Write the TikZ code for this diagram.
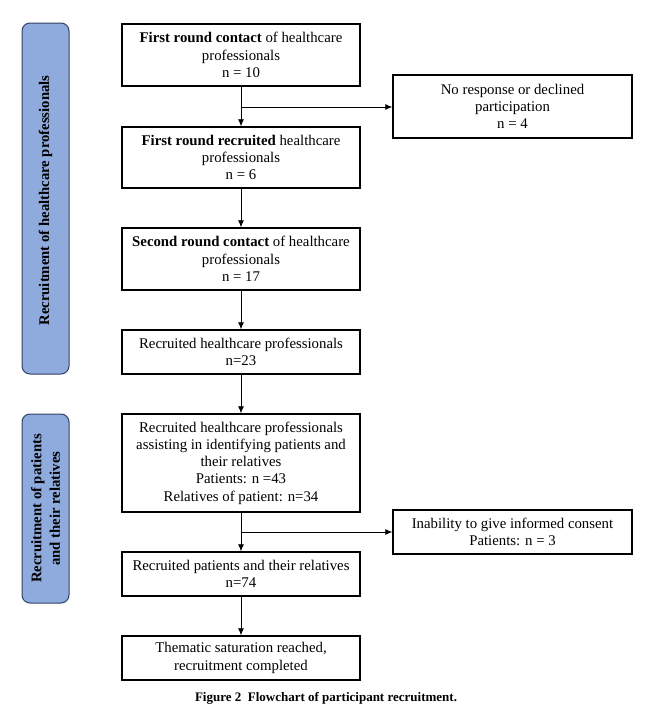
\documentclass[tikz,border=0pt]{standalone}
\usepackage{fontspec}
\setmainfont{Liberation Serif}
\usetikzlibrary{arrows.meta}
\definecolor{bandfill}{RGB}{143,170,220}
\definecolor{bandline}{RGB}{50,66,100}
\begin{document}
\begin{tikzpicture}[x=1pt,y=-1pt,
  box/.style={draw,line width=1.5pt,align=center,inner sep=0pt,
    font=\fontsize{14.8}{17.3}\selectfont},
  band/.style={draw=bandline,fill=bandfill,line width=1pt,rounded corners=8pt,
    inner sep=0pt},
  bandtext/.style={rotate=90,align=center,font=\fontsize{14.7}{18.5}\selectfont\bfseries},
  arr/.style={-{Latex[length=7pt,width=6pt]},line width=0.8pt}]
\useasboundingbox (0,0) rectangle (655,712);
\fill[white] (0,0) rectangle (655,712);
% bands
\node[band,minimum width=47pt,minimum height=351pt] (band1) at (45.5,198.5) {};
\node[bandtext] (band1t) at ([yshift=-2pt]band1.center) {Recruitment of healthcare professionals};
\node[band,minimum width=47pt,minimum height=189pt] (band2) at (45.5,508.5) {};
\node[bandtext] (band2t) at (band2.center) {Recruitment of patients\\and their relatives};
% main boxes
\node[box,minimum width=238pt,minimum height=62pt] (b1) at (241,55) {\textbf{First round contact} of healthcare\\professionals\\n = 10};
\node[box,minimum width=238pt,minimum height=61pt] (b2) at (241,157.5) {\textbf{First round recruited} healthcare\\professionals\\n = 6};
\node[box,minimum width=238pt,minimum height=62pt] (b3) at (241,259) {\textbf{Second round contact} of healthcare\\professionals\\n = 17};
\node[box,minimum width=238pt,minimum height=44pt] (b4) at (241,352) {Recruited healthcare professionals\\n=23};
\node[box,minimum width=238pt,minimum height=98pt] (b5) at (241,463) {Recruited healthcare professionals\\assisting in identifying patients and\\their relatives\\Patients: n =43\\Relatives of patient: n=34};
\node[box,minimum width=238pt,minimum height=44pt] (b6) at (241,574) {Recruited patients and their relatives\\n=74};
\node[box,minimum width=238pt,minimum height=44pt] (b7) at (241,658) {Thematic saturation reached,\\recruitment completed};
% side boxes
\node[box,minimum width=239pt,minimum height=63pt] (s1) at (512.5,106.5) {No response or declined\\participation\\n = 4};
\node[box,minimum width=239pt,minimum height=44pt] (s2) at (512.5,532) {Inability to give informed consent\\Patients: n = 3};
% connectors
\coordinate (j1) at (241,107);
\coordinate (j2) at (241,532);
\draw[arr] (b1) -- (b2);
\draw[arr] (j1) -- (j1 -| s1.west);
\draw[arr] (b2) -- (b3);
\draw[arr] (b3) -- (b4);
\draw[arr] (b4) -- (b5);
\draw[arr] (b5) -- (b6);
\draw[arr] (j2) -- (j2 -| s2.west);
\draw[arr] (b6) -- (b7);
% caption
\node[font=\fontsize{13}{15}\selectfont\bfseries] (cap) at (326,698) {Figure 2\ \ Flowchart of participant recruitment.};
\end{tikzpicture}
\end{document}
